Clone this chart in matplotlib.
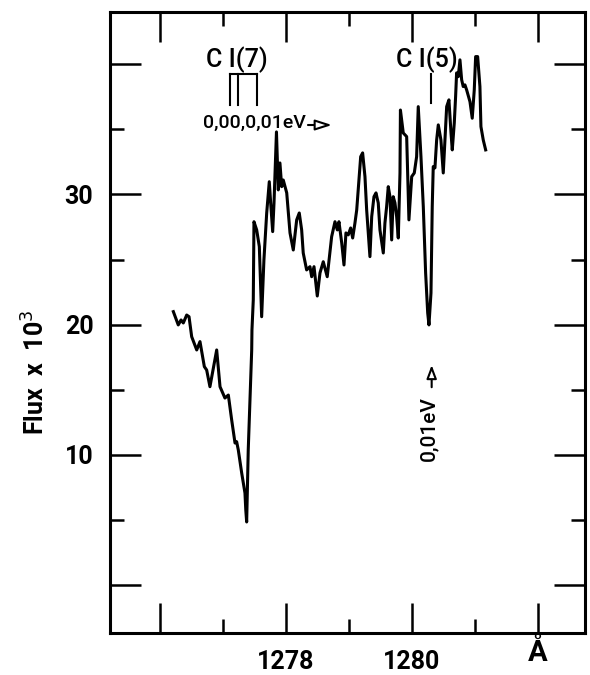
import matplotlib
matplotlib.use("Agg")
import matplotlib.pyplot as plt
import matplotlib.transforms as mtransforms
from matplotlib.ticker import FixedLocator, FixedFormatter, NullFormatter
from matplotlib.patches import FancyArrowPatch

plt.rcParams['font.family'] = ['Roboto', 'DejaVu Sans']

# Spectrum: wavelength (Angstrom) and flux (x 10^3)
wavelength = [
    1276.212, 1276.290, 1276.334, 1276.370, 1276.424, 1276.461, 1276.503, 1276.583,
    1276.635, 1276.704, 1276.741, 1276.793, 1276.900, 1276.953, 1277.031, 1277.085,
    1277.138, 1277.191, 1277.217, 1277.243, 1277.297, 1277.349, 1277.362, 1277.376,
    1277.401, 1277.429, 1277.456, 1277.460, 1277.481, 1277.492, 1277.535, 1277.577,
    1277.614, 1277.650, 1277.694, 1277.735, 1277.757, 1277.789, 1277.810, 1277.849,
    1277.878, 1277.904, 1277.932, 1277.957, 1278.012, 1278.064, 1278.116, 1278.170,
    1278.211, 1278.249, 1278.274, 1278.328, 1278.381, 1278.408, 1278.445, 1278.497,
    1278.540, 1278.592, 1278.655, 1278.725, 1278.778, 1278.815, 1278.841, 1278.885,
    1278.921, 1278.952, 1278.989, 1279.027, 1279.059, 1279.095, 1279.123, 1279.147,
    1279.186, 1279.217, 1279.254, 1279.281, 1279.307, 1279.333, 1279.361, 1279.397,
    1279.429, 1279.465, 1279.492, 1279.545, 1279.571, 1279.598, 1279.624, 1279.651,
    1279.678, 1279.703, 1279.730, 1279.757, 1279.783, 1279.810, 1279.817, 1279.862,
    1279.916, 1279.952, 1279.996, 1280.037, 1280.074, 1280.100, 1280.143, 1280.180,
    1280.217, 1280.250, 1280.270, 1280.302, 1280.322, 1280.338, 1280.365, 1280.392,
    1280.418, 1280.460, 1280.497, 1280.524, 1280.551, 1280.587, 1280.620, 1280.640,
    1280.672, 1280.693, 1280.709, 1280.735, 1280.762, 1280.789, 1280.814, 1280.841,
    1280.869, 1280.921, 1280.957, 1280.989, 1281.011, 1281.043, 1281.079, 1281.095,
    1281.132, 1281.170,
]
flux = [
    21.0, 19.98, 20.36, 20.13, 20.74, 20.61, 19.08, 18.06,
    18.70, 16.78, 16.52, 15.24, 18.06, 15.24, 14.37, 14.60,
    12.69, 10.92, 11.02, 10.39, 8.62, 7.08, 5.78, 4.86,
    10.39, 14.22, 18.06, 19.59, 21.90, 27.90, 27.27, 25.99,
    20.61, 24.97, 28.57, 30.97, 29.34, 27.14, 29.34, 34.79,
    30.34, 32.41, 30.59, 31.10, 30.11, 27.04, 25.73, 28.04,
    28.57, 27.27, 25.50, 24.20, 24.45, 23.68, 24.45, 22.20,
    23.97, 24.83, 23.68, 26.75, 27.90, 27.27, 27.90, 26.27,
    24.58, 27.04, 26.89, 27.42, 26.65, 27.80, 28.80, 30.34,
    32.89, 33.18, 31.36, 28.80, 27.04, 25.22, 28.29, 29.82,
    30.11, 29.34, 27.27, 25.50, 27.80, 29.06, 30.59, 29.82,
    26.50, 29.82, 29.34, 28.29, 26.65, 31.64, 36.47, 34.71,
    34.43, 28.04, 31.36, 31.64, 32.89, 36.73, 32.89, 29.06,
    23.97, 20.90, 19.98, 22.43, 29.06, 32.13, 32.03, 34.17,
    35.33, 34.17, 31.64, 34.17, 36.73, 37.25, 34.71, 33.41,
    35.48, 37.50, 39.32, 39.03, 40.32, 38.79, 38.27, 38.40,
    38.00, 37.11, 35.84, 38.00, 40.57, 40.57, 38.27, 35.20,
    34.17, 33.41,
]

# Axis ticks
x_major = [1276, 1278, 1280, 1282]
x_major_labels = ['', '1278', '1280', '']
x_unit = 'Å'
x_minor = [1277, 1279, 1281]
y_major = [0, 10, 20, 30, 40]
y_major_labels = ['', '10', '20', '30', '']
y_minor = [5, 15, 25, 35]

# Line identifications
ci7_lines = [1277.111, 1277.243, 1277.535]
ci5_lines = [1280.302]

fig = plt.figure(figsize=(5.9, 6.75), dpi=100)
ax = fig.add_axes([0.1864, 0.0622, 0.805, 0.9198])

ax.plot(wavelength, flux, color='black', lw=2.2, solid_joinstyle='round')

ymin, ymax = -3.66, 43.98
ax.set_xlim(1275.206, 1282.746)
ax.set_ylim(ymin, ymax)

for sp in ax.spines.values():
    sp.set_linewidth(2.2)

ax.xaxis.set_major_locator(FixedLocator(x_major))
ax.xaxis.set_major_formatter(FixedFormatter(x_major_labels))
ax.xaxis.set_minor_locator(FixedLocator(x_minor))
ax.xaxis.set_minor_formatter(NullFormatter())
ax.yaxis.set_major_locator(FixedLocator(y_major))
ax.yaxis.set_major_formatter(FixedFormatter(y_major_labels))
ax.yaxis.set_minor_locator(FixedLocator(y_minor))

ax.tick_params(axis='y', which='both', direction='in', left=True, right=True,
               width=1.8, colors='black')
ax.tick_params(axis='y', which='major', length=22, labelsize=18, pad=12)
ax.tick_params(axis='y', which='minor', length=10)
# wavelength ticks are drawn as explicit inward marks below
ax.tick_params(axis='x', which='both', direction='in', length=0,
               labelsize=18, pad=12)
for lab in ax.get_xticklabels() + ax.get_yticklabels():
    lab.set_fontweight('bold')

span = ymax - ymin
for xs, frac in ((x_major, 0.048), (x_minor, 0.022)):
    ax.vlines(xs, ymin, ymin + frac * span, colors='black', lw=1.8,
              clip_on=False, zorder=3)
    ax.vlines(xs, ymax - frac * span, ymax, colors='black', lw=1.8,
              clip_on=False, zorder=3)

xtrans = mtransforms.blended_transform_factory(ax.transData, ax.transAxes)
ax.text(x_major[-1], -0.010, x_unit, transform=xtrans, ha='center', va='top',
        fontsize=21, fontweight='bold')

ax.set_ylabel('Flux  x  10$^3$', fontsize=18, fontweight='bold')
ax.yaxis.set_label_coords(-0.127, 0.42)

# C I(7) multiplet bracket
top7, bot7 = 39.24, 36.86
ax.plot([ci7_lines[0], ci7_lines[-1]], [top7, top7], color='black', lw=1.5)
for w in ci7_lines:
    ax.plot([w, w], [top7, bot7], color='black', lw=1.5)
ax.text(1277.217, 40.3, 'C I(7)', ha='center', va='center', fontsize=18,
        fontweight='medium')
ax.text(1277.495, 35.5, '0,00,0,01eV', ha='center', va='center', fontsize=14,
        fontweight='medium')
ax.add_patch(FancyArrowPatch((1278.349, 35.32), (1278.730, 35.32),
                             arrowstyle='-|>,head_length=10,head_width=3.2',
                             shrinkA=0, shrinkB=0, lw=1.5, fc='white', ec='black'))

# C I(5) line
for w in ci5_lines:
    ax.plot([w, w], [39.2, 37.0], color='black', lw=1.5)
ax.text(1280.230, 40.3, 'C I(5)', ha='center', va='center', fontsize=18,
        fontweight='medium')
ax.add_patch(FancyArrowPatch((1280.313, 15.2), (1280.313, 16.9),
                             arrowstyle='-|>,head_length=8,head_width=3',
                             shrinkA=0, shrinkB=0, lw=1.5, fc='white', ec='black'))
ax.text(1280.270, 12.0, '0,01eV', ha='center', va='center', fontsize=15,
        fontweight='medium', rotation=90)

fig.savefig('out.png', dpi=100)
